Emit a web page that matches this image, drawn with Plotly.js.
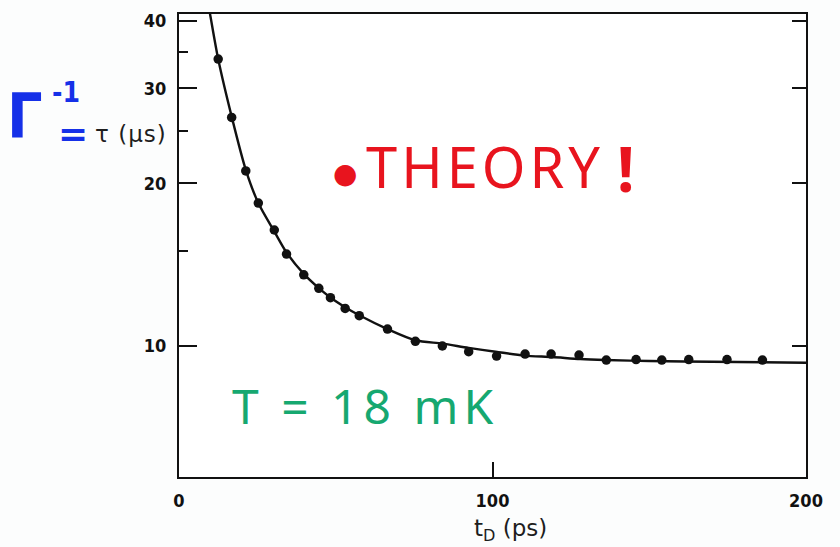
<!DOCTYPE html>
<html>
<head>
<meta charset="utf-8">
<script src="https://cdn.plot.ly/plotly-3.0.1.min.js"></script>
<style>
  html, body { margin: 0; padding: 0; background: #fcfdfd; }
  #chart { width: 840px; height: 547px; }
</style>
</head>
<body>
<div id="chart"></div>
<script>
// Measured relaxation time tau (µs) against delay t_D (ps), T = 18 mK
const delayPs = [12.5, 16.8, 21.3, 25.3, 30.4, 34.3, 39.8, 44.6, 48.3, 53.0, 57.5, 66.5, 75.4,
                 84.0, 92.4, 101.3, 110.4, 118.7, 127.6, 136.3, 145.8, 154.0, 162.6, 174.8, 186.1];
const tauUs   = [34.0, 26.5, 21.1, 18.4, 16.4, 14.8, 13.55, 12.79, 12.29, 11.74, 11.38, 10.75, 10.2,
                 10.0, 9.76, 9.58, 9.66, 9.66, 9.62, 9.42, 9.44, 9.42, 9.44, 9.44, 9.42];

// Theory curve
const theoryPs = [9, 9.9, 12.5, 16.8, 21.3, 25.3, 30.4, 34.3, 39.8, 44.6, 48.3, 53, 57.5, 66.5,
                  75.4, 84, 92.4, 101, 110, 119, 128, 136, 150, 170, 200];
const theoryUs = [44, 41.2, 34.0, 26.6, 21.2, 18.4, 16.3, 14.9, 13.6, 12.8, 12.3, 11.8, 11.4, 10.75,
                  10.25, 10.1, 9.92, 9.76, 9.6, 9.54, 9.46, 9.42, 9.38, 9.35, 9.31];

// Axis ticks
const xTicks = [0, 100, 200];
const xTickText = ['0', '100', '200'];
const yTicks = [10, 20, 30, 40];
const yTickText = ['10', '20', '30', '40'];
const yMinorTicks = [15, 25, 35];
const xRange = [0, 200];
const yRange = [5.72, 41.2];

const W = 840, H = 547;
const M = { l: 179, r: 34, t: 14, b: 70 };
const plotW = W - M.l - M.r, plotH = H - M.t - M.b;
// pixel position on the page -> paper fraction
const px = x => (x - M.l) / plotW;
const py = y => (H - M.b - y) / plotH;

const tickFont = { family: 'DejaVu Sans Condensed, DejaVu Sans, sans-serif', size: 18, color: '#111', weight: 'bold' };
const hand = 'Noto Sans, DejaVu Sans, sans-serif';

const traces = [
  {
    x: theoryPs, y: theoryUs, type: 'scatter', mode: 'lines',
    line: { color: '#111', width: 2.4, shape: 'spline', smoothing: 0.8 },
    hoverinfo: 'skip', showlegend: false
  },
  {
    x: delayPs, y: tauUs, type: 'scatter', mode: 'markers',
    marker: { color: '#111', size: 9.5 },
    showlegend: false
  },
  {
    // carries the right-hand tick axis
    x: theoryPs, y: theoryUs, type: 'scatter', mode: 'lines', yaxis: 'y2',
    line: { width: 0 }, opacity: 0, hoverinfo: 'skip', showlegend: false
  }
];

const layout = {
  width: W, height: H,
  margin: M,
  paper_bgcolor: '#fcfdfd',
  plot_bgcolor: '#ffffff',
  showlegend: false,
  xaxis: {
    range: xRange, tickmode: 'array', tickvals: xTicks, ticktext: xTickText,
    ticks: 'inside', ticklen: 15, tickwidth: 2, tickcolor: '#111',
    showline: true, linecolor: '#111', linewidth: 2, mirror: true,
    showgrid: false, zeroline: false, tickfont: tickFont, ticklabelstandoff: 6
  },
  yaxis: {
    type: 'log', range: yRange.map(Math.log10),
    tickmode: 'array', tickvals: yTicks, ticktext: yTickText,
    ticks: 'inside', ticklen: 18, tickwidth: 2, tickcolor: '#111',
    minor: { tickmode: 'array', tickvals: yMinorTicks, ticks: 'inside', ticklen: 9, tickwidth: 2, tickcolor: '#111', showgrid: false },
    showline: true, linecolor: '#111', linewidth: 2, mirror: true,
    showgrid: false, zeroline: false, tickfont: tickFont, ticklabelstandoff: 7
  },
  yaxis2: {
    type: 'log', range: yRange.map(Math.log10), overlaying: 'y', side: 'right',
    tickmode: 'array', tickvals: yTicks, showticklabels: false,
    ticks: 'inside', ticklen: 14, tickwidth: 2, tickcolor: '#111',
    showline: false, showgrid: false, zeroline: false
  },
  annotations: [
    // x-axis title
    { xref: 'paper', yref: 'paper', x: px(510), y: py(530), xanchor: 'center', yanchor: 'middle',
      text: 't<sub>D</sub> (ps)', showarrow: false,
      font: { family: 'DejaVu Sans, sans-serif', size: 23, color: '#1e1e1e' } },
    // y-axis title
    { xref: 'paper', yref: 'paper', x: px(169), y: py(134), xanchor: 'right', yanchor: 'middle',
      text: '<span style="letter-spacing:1px">τ (μs)</span>', showarrow: false,
      font: { family: 'DejaVu Sans, sans-serif', size: 23, color: '#1e1e1e' } },
    { xref: 'paper', yref: 'paper', x: px(25), y: py(117), xanchor: 'center', yanchor: 'middle',
      text: '<b>Γ</b>', showarrow: false,
      font: { family: 'DejaVu Sans Condensed, DejaVu Sans, sans-serif', size: 62, color: '#1530e8' } },
    { xref: 'paper', yref: 'paper', x: px(66), y: py(92), xanchor: 'center', yanchor: 'middle',
      text: '<b>-1</b>', showarrow: false,
      font: { family: 'DejaVu Sans Condensed, DejaVu Sans, sans-serif', size: 28, color: '#1530e8' } },
    { xref: 'paper', yref: 'paper', x: px(73), y: py(133), xanchor: 'center', yanchor: 'middle',
      text: '<b>=</b>', showarrow: false,
      font: { family: 'DejaVu Sans, sans-serif', size: 36, color: '#1530e8' } },
    // red note
    { xref: 'paper', yref: 'paper', x: px(345), y: py(173), xanchor: 'center', yanchor: 'middle',
      text: '●', showarrow: false,
      font: { family: 'DejaVu Sans, sans-serif', size: 28, color: '#e8141e' } },
    { xref: 'paper', yref: 'paper', x: px(485), y: py(166), xanchor: 'center', yanchor: 'middle',
      text: '<span style="letter-spacing:4px">THEORY</span>', showarrow: false,
      font: { family: hand, size: 56, color: '#e8141e' } },
    { xref: 'paper', yref: 'paper', x: px(625), y: py(168), xanchor: 'center', yanchor: 'middle',
      text: '<b>!</b>', showarrow: false,
      font: { family: hand, size: 62, color: '#e8141e' } },
    // green note
    { xref: 'paper', yref: 'paper', x: px(365), y: py(405), xanchor: 'center', yanchor: 'middle',
      text: '<span style="letter-spacing:5px">T = 18 mK</span>', showarrow: false,
      font: { family: hand, size: 48, color: '#16a870' } }
  ]
};

Plotly.newPlot('chart', traces, layout, { displayModeBar: false, staticPlot: true });
</script>
</body>
</html>
